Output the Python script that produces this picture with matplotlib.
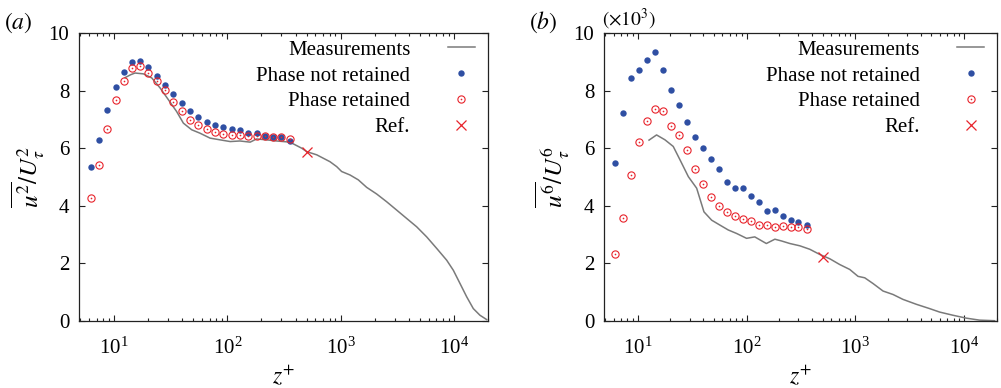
import matplotlib
matplotlib.use("Agg")
import matplotlib.pyplot as plt
from matplotlib.lines import Line2D
from matplotlib.legend_handler import HandlerTuple
from matplotlib.ticker import LogLocator, NullFormatter

plt.rcParams['font.family'] = ['Liberation Serif', 'DejaVu Serif']
plt.rcParams['mathtext.fontset'] = 'stix'

# ---------------- data ----------------
z_pts = [6.2, 7.3, 8.7, 10.3, 12.2, 14.4, 17.0, 20.1, 23.9, 28.3, 33.4, 39.5, 46.8,
         55.4, 65.6, 77.7, 92, 109, 129, 153, 181, 214, 254, 300, 356]

# panel (a): u^2
a_not = [5.36, 6.29, 7.31, 8.12, 8.64, 8.99, 9.01, 8.82, 8.50, 8.20, 7.88, 7.58, 7.29,
         7.09, 6.91, 6.80, 6.75, 6.68, 6.62, 6.51, 6.53, 6.43, 6.40, 6.39, 6.24]
a_ret = [4.26, 5.41, 6.67, 7.68, 8.34, 8.78, 8.85, 8.61, 8.34, 8.02, 7.61, 7.30, 6.97,
         6.79, 6.66, 6.57, 6.50, 6.47, 6.45, 6.43, 6.43, 6.42, 6.38, 6.40, 6.31]
a_meas_z = [12.5, 14.0, 15.3, 18.2, 21.5, 25.5, 30.2, 35.7, 40.9, 48.4, 57.4, 70.3, 86.1,
            106, 129, 159, 181, 222, 273, 357, 453, 502, 615, 806, 923, 1021, 1210, 1433,
            1698, 2080, 2550, 3126, 3830, 4695, 5753, 7050, 8640, 9890, 11330, 12970,
            14840, 16980, 19450]
a_meas = [8.45, 8.55, 8.61, 8.58, 8.44, 8.09, 7.68, 7.27, 6.87, 6.64, 6.52, 6.35, 6.29,
          6.23, 6.25, 6.21, 6.32, 6.29, 6.25, 6.21, 6.00, 5.88, 5.77, 5.53, 5.36, 5.19,
          5.07, 4.90, 4.64, 4.41, 4.14, 3.85, 3.56, 3.27, 2.92, 2.52, 2.11, 1.76, 1.30,
          0.84, 0.43, 0.20, 0.05]
a_ref_z = [500]
a_ref = [5.88]

# panel (b): u^6 (x10^3)
b_not = [5.49, 7.22, 8.42, 8.71, 9.07, 9.34, 8.72, 8.03, 7.51, 6.91, 6.39, 6.01, 5.63,
         5.28, 4.84, 4.61, 4.61, 4.33, 4.13, 3.82, 3.85, 3.63, 3.49, 3.42, 3.33]
b_ret = [2.31, 3.58, 5.07, 6.22, 6.94, 7.35, 7.30, 6.77, 6.45, 5.93, 5.28, 4.77, 4.32,
         3.99, 3.79, 3.64, 3.54, 3.47, 3.35, 3.33, 3.25, 3.31, 3.26, 3.26, 3.21]
b_meas_z = [12.7, 14.9, 17.8, 21.2, 24.5, 29.2, 34.8, 40.6, 47.8, 56.9, 67.9, 80.9, 100,
            119, 152, 182, 209, 250, 309, 381, 471, 582, 718, 887, 1057, 1218, 1453,
            1795, 2218, 2736, 3629, 4810, 5940, 7870, 10400, 13800, 19000]
b_meas = [6.28, 6.46, 6.29, 6.06, 5.59, 5.01, 4.61, 3.79, 3.50, 3.33, 3.16, 3.04, 2.87,
          2.92, 2.69, 2.84, 2.78, 2.69, 2.61, 2.49, 2.31, 2.16, 1.96, 1.79, 1.55, 1.50,
          1.30, 1.04, 0.92, 0.75, 0.58, 0.43, 0.31, 0.20, 0.10, 0.03, 0.01]
b_ref_z = [500]
b_ref = [2.23]

labels = ['Measurements', 'Phase not retained', 'Phase retained', 'Ref.']
yticks = [0, 2, 4, 6, 8, 10]

# ---------------- style ----------------
GRAY = '#7a7a7a'
BLUE = '#2f4fa3'
RED = '#e8232b'
FS = 15

fig = plt.figure(figsize=(10.01, 3.88), dpi=100)
ax1 = fig.add_axes([0.0789, 0.1727, 0.4086, 0.7423])
ax2 = fig.add_axes([0.6034, 0.1727, 0.3926, 0.7423])


def draw(ax, meas_z, meas, nret, ret, ref_z, ref, ylabel):
    ax.plot(meas_z, meas, color=GRAY, lw=1.1, zorder=2)
    ax.plot(z_pts, nret, ls='none', marker='o', ms=4.6, mfc=BLUE, mec=BLUE, mew=0, zorder=3)
    ax.plot(z_pts, ret, ls='none', marker='o', ms=5.2, mfc='none', mec=RED, mew=0.8, zorder=4)
    ax.plot(z_pts, ret, ls='none', marker='o', ms=1.2, mfc=RED, mec=RED, mew=0, zorder=4)
    ax.plot(ref_z, ref, ls='none', marker='x', ms=7, mec=RED, mew=0.9, zorder=5)
    ax.set_xscale('log')
    ax.set_xlim(4.9, 2.0e4)
    ax.set_ylim(0, 10)
    ax.set_yticks(yticks)
    ax.xaxis.set_major_locator(LogLocator(base=10, numticks=10))
    ax.xaxis.set_minor_locator(LogLocator(base=10, subs=range(2, 10), numticks=20))
    ax.xaxis.set_minor_formatter(NullFormatter())
    ax.tick_params(which='both', direction='in', top=True, right=True,
                   labelsize=FS, color='#222222', width=0.8)
    ax.tick_params(axis='x', which='major', length=4, pad=12)
    ax.tick_params(axis='y', which='major', length=4, pad=7)
    ax.tick_params(which='minor', length=2)
    for s in ax.spines.values():
        s.set_linewidth(0.9)
        s.set_color('#222222')
    ax.set_xlabel(r'$z^{+}$', fontsize=FS + 2, labelpad=4)
    ax.set_ylabel(ylabel, fontsize=FS + 3, labelpad=1)

    h_line = Line2D([], [], color=GRAY, lw=1.1)
    h_blue = Line2D([], [], ls='none', marker='o', ms=4.6, mfc=BLUE, mec=BLUE, mew=0)
    h_red1 = Line2D([], [], ls='none', marker='o', ms=5.2, mfc='none', mec=RED, mew=0.8)
    h_red2 = Line2D([], [], ls='none', marker='o', ms=1.2, mfc=RED, mec=RED, mew=0)
    h_x = Line2D([], [], ls='none', marker='x', ms=7, mec=RED, mew=0.9)
    ax.legend([h_line, h_blue, (h_red1, h_red2), h_x], labels,
              handler_map={tuple: HandlerTuple(ndivide=1, pad=0)},
              loc='upper right', bbox_to_anchor=(0.968, 0.975), frameon=False,
              markerfirst=False, fontsize=FS, handlelength=1.3, handletextpad=1.8,
              labelspacing=0.3, borderpad=0, borderaxespad=0, numpoints=1)


draw(ax1, a_meas_z, a_meas, a_not, a_ret, a_ref_z, a_ref, r'$\overline{u^2}/U_\tau^2$')
draw(ax2, b_meas_z, b_meas, b_not, b_ret, b_ref_z, b_ref, r'$\overline{u^6}/U_\tau^6$')

fig.text(0.004, 0.91, r'$(a)$', fontsize=FS + 2, ha='left', va='bottom')
fig.text(0.528, 0.91, r'$(b)$', fontsize=FS + 2, ha='left', va='bottom')
fig.text(0.601, 0.918, r'$(\times 10^3)$', fontsize=FS - 1, ha='left', va='bottom')

fig.savefig('out.png', dpi=100)
